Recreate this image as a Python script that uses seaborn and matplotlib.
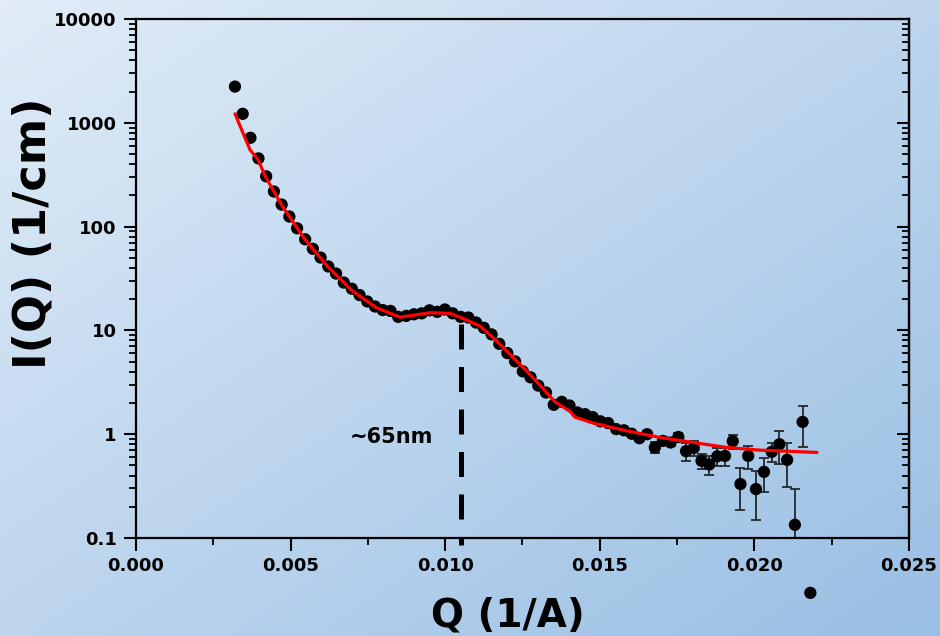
import numpy as np
import pandas as pd
import matplotlib
matplotlib.use("Agg")
import matplotlib.pyplot as plt
import seaborn as sns
from matplotlib.ticker import LogLocator, MultipleLocator, NullFormatter
from matplotlib.colors import LinearSegmentedColormap

# ---------------- data ----------------
q_data = [0.00320, 0.00345, 0.00370, 0.00396, 0.00421, 0.00446, 0.00471, 0.00496,
          0.00521, 0.00547, 0.00572, 0.00597, 0.00622, 0.00647, 0.00672, 0.00698,
          0.00723, 0.00748, 0.00773, 0.00798, 0.00823, 0.00848, 0.00874, 0.00899,
          0.00924, 0.00949, 0.00974, 0.00999, 0.01024, 0.01050, 0.01075, 0.01100,
          0.01125, 0.01150, 0.01175, 0.01201, 0.01226, 0.01251, 0.01276, 0.01301,
          0.01326, 0.01351, 0.01377, 0.01402, 0.01427, 0.01452, 0.01477, 0.01502,
          0.01527, 0.01553, 0.01578, 0.01603, 0.01628, 0.01653, 0.01678, 0.01704,
          0.01729, 0.01754, 0.01779, 0.01804, 0.01829, 0.01854, 0.01880, 0.01905,
          0.01930, 0.01955, 0.01980, 0.02005, 0.02031, 0.02056, 0.02081, 0.02106,
          0.02131, 0.02156, 0.02181]
i_data = [2234, 1221, 717, 454, 305, 218, 163, 125, 96.3, 75.5, 61.1, 50.3, 41.3,
          35.3, 28.9, 25.2, 21.9, 19.0, 17.0, 15.7, 15.4, 13.5, 13.8, 14.3, 14.6,
          15.6, 15.1, 15.9, 14.6, 13.5, 13.3, 11.9, 10.6, 9.15, 7.42, 6.05, 5.03,
          4.03, 3.53, 2.94, 2.52, 1.92, 2.05, 1.89, 1.62, 1.56, 1.46, 1.33, 1.28,
          1.12, 1.09, 1.01, 0.915, 1.00, 0.745, 0.862, 0.832, 0.940, 0.686, 0.737,
          0.554, 0.511, 0.612, 0.618, 0.857, 0.331, 0.618, 0.296, 0.434, 0.676,
          0.801, 0.566, 0.134, 1.313, 0.0296]
i_err = [40, 24, 14, 9, 6, 4.4, 3.3, 2.5, 1.9, 1.5, 1.2, 1.0, 0.8, 0.7, 0.6,
         0.5, 0.44, 0.38, 0.34, 0.31, 0.31, 0.27, 0.28, 0.29, 0.29, 0.31, 0.30,
         0.32, 0.29, 0.27, 0.27, 0.24, 0.21, 0.18, 0.15, 0.12, 0.10, 0.08, 0.07,
         0.06, 0.05, 0.04, 0.04, 0.04, 0.04, 0.04, 0.04, 0.04, 0.05, 0.05, 0.05,
         0.05, 0.06, 0.06, 0.09, 0.07, 0.07, 0.08, 0.14, 0.115, 0.095, 0.107,
         0.12, 0.125, 0.13, 0.143, 0.152, 0.147, 0.157, 0.14, 0.28, 0.259,
         0.162, 0.565, 0.0]

q_fit = [0.003202, 0.003687, 0.003946, 0.004204, 0.004722, 0.005466, 0.006210,
         0.006986, 0.007762, 0.008538, 0.009508, 0.010155, 0.010640, 0.011125,
         0.011611, 0.012096, 0.012581, 0.013066, 0.013551, 0.014036, 0.014198,
         0.014780, 0.015880, 0.016947, 0.018014, 0.019114, 0.020181, 0.021248,
         0.022025]
i_fit = [1221, 550, 441, 296, 159, 75, 41.0, 24.2, 16.6, 13.4, 14.8, 14.6, 12.8,
         11.0, 8.2, 5.88, 4.22, 2.96, 2.05, 1.66, 1.46, 1.28, 1.076, 0.930,
         0.832, 0.745, 0.702, 0.682, 0.667]

x_ticks = [0.000, 0.005, 0.010, 0.015, 0.020, 0.025]
x_tick_labels = ["0.000", "0.005", "0.010", "0.015", "0.020", "0.025"]
y_ticks = [0.1, 1, 10, 100, 1000, 10000]
y_tick_labels = ["0.1", "1", "10", "100", "1000", "10000"]

peak_q = 0.01051
peak_span = [11.5, 0.085]
peak_label = "~65nm"
label_pos = (0.00692, 0.936)

x_label = "Q (1/A)"
y_label = "I(Q) (1/cm)"

# ---------------- figure ----------------
sns.set_style("ticks")
plt.rcParams["font.family"] = ["DejaVu Sans"]
plt.rcParams["font.weight"] = "bold"
plt.rcParams["text.color"] = "black"
plt.rcParams["axes.labelcolor"] = "black"
plt.rcParams["xtick.color"] = "black"
plt.rcParams["ytick.color"] = "black"

fig = plt.figure(figsize=(9.4, 6.36), dpi=100)

# gradient background
bg = fig.add_axes([0, 0, 1, 1], zorder=-10)
yy, xx = np.mgrid[0:1:200j, 0:1:300j]
t = 0.5 * xx + 0.5 * yy
cmap = LinearSegmentedColormap.from_list("bg", ["#e1ecf7", "#99bfe4"])
bg.imshow(t, cmap=cmap, aspect="auto", extent=[0, 1, 0, 1], origin="upper",
          vmin=0, vmax=1)
bg.set_axis_off()

ax = fig.add_axes([0.1447, 0.1541, 0.8223, 0.8160])
ax.set_facecolor("none")

df = pd.DataFrame({"q": q_data, "I": i_data, "err": i_err})
fit = pd.DataFrame({"q": q_fit, "I": i_fit})

ax.set_yscale("log")
ax.errorbar(df["q"], df["I"], yerr=df["err"], fmt="none", ecolor="#24282d",
            elinewidth=1.3, capsize=3.8, capthick=1.3, zorder=2)
sns.scatterplot(data=df, x="q", y="I", ax=ax, color="black", s=78,
                edgecolor="none", linewidth=0, zorder=3, clip_on=False)
sns.lineplot(data=fit, x="q", y="I", ax=ax, color="red", lw=2.3,
             estimator=None, sort=False, zorder=4)

ax.plot([peak_q, peak_q], peak_span, color="black", lw=3.6,
        dashes=(5, 3.5), zorder=5, clip_on=False, dash_capstyle="butt")
ax.text(label_pos[0], label_pos[1], peak_label, fontsize=15, fontweight="bold",
        ha="left", va="center", color="black")

ax.set_xlim(0, 0.025)
ax.set_ylim(0.1, 10000)
ax.set_xticks(x_ticks, x_tick_labels)
ax.set_yticks(y_ticks, y_tick_labels)
ax.xaxis.set_minor_locator(MultipleLocator(0.0025))
ax.yaxis.set_minor_locator(LogLocator(base=10, subs=np.arange(2, 10)))
ax.yaxis.set_minor_formatter(NullFormatter())

for lab in ax.get_xticklabels() + ax.get_yticklabels():
    lab.set_fontweight("bold")
    lab.set_fontsize(13)
    lab.set_color("black")

ax.tick_params(which="major", direction="out", length=9, width=1.5,
               colors="black", pad=5)
ax.tick_params(which="minor", direction="out", length=5, width=1.3,
               colors="black")
ax.tick_params(axis="both", top=False, right=False, which="both")

for sp in ax.spines.values():
    sp.set_visible(True)
    sp.set_linewidth(1.6)
    sp.set_color("black")

# right axis with inward ticks
ax2 = ax.twinx()
ax2.set_yscale("log")
ax2.set_ylim(0.1, 10000)
ax2.yaxis.set_major_locator(LogLocator(base=10))
ax2.yaxis.set_minor_locator(LogLocator(base=10, subs=np.arange(2, 10)))
ax2.tick_params(which="major", direction="in", length=9, width=1.5,
                labelright=False, colors="black")
ax2.tick_params(which="minor", direction="in", length=5, width=1.3,
                labelright=False, colors="black")
ax2.yaxis.set_minor_formatter(NullFormatter())
for sp in ax2.spines.values():
    sp.set_visible(False)
ax2.spines["right"].set_visible(True)
ax2.spines["right"].set_linewidth(1.6)
ax2.spines["right"].set_color("black")

ax.set_xlabel(x_label, fontsize=28, fontweight="bold", color="black")
ax.set_ylabel(y_label, fontsize=32, fontweight="bold", color="black")
ax.xaxis.set_label_coords(0.481, -0.112)
ax.yaxis.set_label_coords(-0.106, 0.588)

fig.savefig("out.png", dpi=100)
